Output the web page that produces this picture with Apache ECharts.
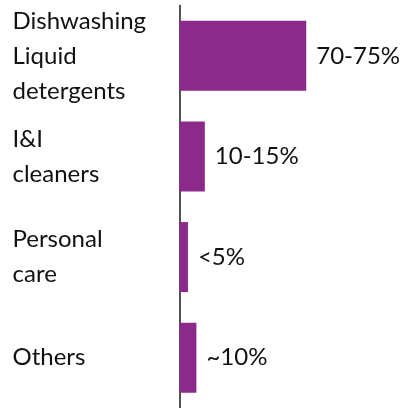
<!DOCTYPE html>
<html>
<head>
<meta charset="utf-8">
<style>
  html, body { margin: 0; padding: 0; background: #ffffff; }
  #chart { width: 403px; height: 408px; }
</style>
<script src="https://cdn.jsdelivr.net/npm/echarts@6/dist/echarts.min.js"></script>
</head>
<body>
<div id="chart"></div>
<script>
// Segment names (top to bottom), share upper bounds and their printed labels
const categories = ['Dishwashing\nLiquid\ndetergents', 'I&I\ncleaners', 'Personal\ncare', 'Others'];
const shares = [75, 15, 5, 10];
const shareLabels = ['70-75%', '10-15%', '<5%', '~10%'];

const FONT = 'Lato';
const chart = echarts.init(document.getElementById('chart'), null, { renderer: 'canvas' });

chart.setOption({
  animation: false,
  backgroundColor: '#ffffff',
  grid: { left: 179.5, top: 5.5, width: 169, height: 404, containLabel: false },
  xAxis: {
    type: 'value',
    min: 0,
    max: 100,
    show: false
  },
  yAxis: {
    type: 'category',
    inverse: true,
    data: categories,
    axisLine: { show: true, lineStyle: { color: '#1a1a1a', width: 1.5 } },
    axisTick: { show: false },
    splitLine: { show: false },
    axisLabel: {
      align: 'left',
      margin: 167,
      fontFamily: FONT,
      fontSize: 24,
      lineHeight: 35,
      color: '#111111',
      verticalAlign: 'middle'
    }
  },
  series: [{
    type: 'bar',
    data: shares,
    barWidth: 70,
    itemStyle: { color: '#8B2A8A' },
    label: {
      show: true,
      position: 'right',
      distance: 10,
      fontFamily: FONT,
      fontSize: 24,
      color: '#111111',
      formatter: p => shareLabels[p.dataIndex]
    }
  }]
});
</script>
</body>
</html>
